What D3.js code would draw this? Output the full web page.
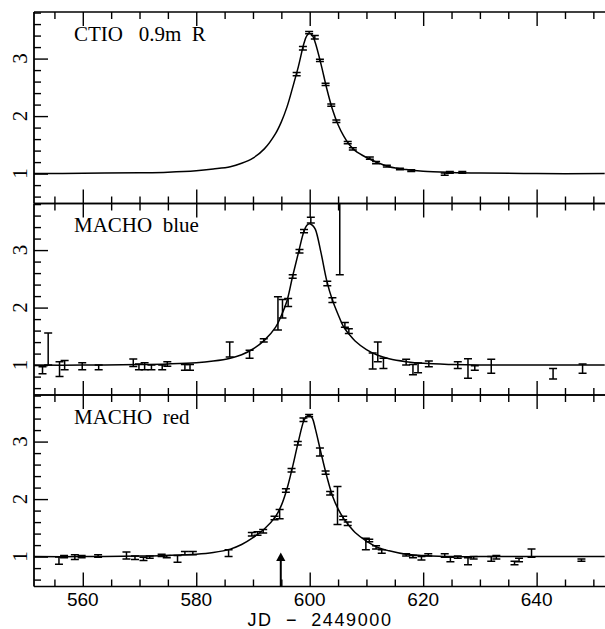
<!DOCTYPE html>
<html>
<head>
<meta charset="utf-8">
<script src="https://cdn.jsdelivr.net/npm/d3@7"></script>
<style>
  body { margin: 0; background: #fff; }
</style>
</head>
<body>
<svg id="chart" width="605" height="629"></svg>
<script>
// days JD - 2449000 where the fitted curves are sampled
const curveT = [551, 560, 570, 575, 580, 583, 586, 588, 590, 592, 594, 595, 596, 597, 598, 599, 599.5, 600,
    600.5, 601, 602, 603, 604, 605, 606, 607, 608, 610, 612, 614, 617, 620, 625, 630, 640, 652];
const ctioCurve = [1.0, 1.005, 1.015, 1.025, 1.05, 1.08, 1.12, 1.18, 1.27, 1.43, 1.70, 1.90, 2.16, 2.50, 2.86, 3.27, 3.40, 3.44,
    3.40, 3.27, 2.90, 2.48, 2.12, 1.85, 1.65, 1.50, 1.40, 1.28, 1.19, 1.12, 1.07, 1.04, 1.02, 1.01, 1.0, 1.0];
const blueCurve = [1.0, 1.0, 1.01, 1.02, 1.04, 1.07, 1.12, 1.18, 1.28, 1.43, 1.66, 1.86, 2.12, 2.55, 2.95, 3.33, 3.43, 3.46,
    3.43, 3.36, 2.95, 2.47, 2.13, 1.88, 1.66, 1.53, 1.42, 1.27, 1.17, 1.11, 1.06, 1.03, 1.01, 1.0, 1.0, 1.0];
const redCurve = [1.0, 1.0, 1.01, 1.02, 1.04, 1.07, 1.13, 1.21, 1.33, 1.48, 1.70, 1.89, 2.18, 2.57, 3.0, 3.37, 3.44, 3.46,
    3.40, 3.22, 2.80, 2.40, 2.06, 1.83, 1.66, 1.53, 1.42, 1.27, 1.16, 1.10, 1.04, 1.02, 1.0, 1.0, 1.0, 1.0];

// CTIO 0.9m R points
const ctioT = [597.7, 598.8, 599.9, 600.9, 601.8, 602.8, 603.8, 604.7, 606.7, 607.6, 610.6, 611.7, 613.6, 615.9, 617.9, 623.8, 624.7, 626.9];
const ctioA = [2.73, 3.18, 3.45, 3.37, 2.97, 2.55, 2.19, 1.91, 1.54, 1.43, 1.27, 1.19, 1.13, 1.08, 1.05, 0.99, 1.02, 1.02];
const ctioErr = [0.03, 0.03, 0.02, 0.03, 0.02, 0.02, 0.02, 0.02, 0.02, 0.02, 0.02, 0.02, 0.015, 0.015, 0.015, 0.02, 0.015, 0.015];

// MACHO blue points
const blueT = [552.9, 553.9, 555.9, 556.8, 559.9, 562.8, 568.9, 569.9, 570.9, 572.1, 574.0, 574.9, 578.0, 578.9, 585.9, 589.4,
    591.9, 594.4, 595.2, 596.2, 597.0, 598.2, 599.0, 600.2, 603.1, 604.0, 605.3, 606.2, 606.9, 611.1, 612.0, 613.0,
    617.0, 618.2, 619.1, 621.0, 626.1, 627.9, 629.1, 632.0, 642.9, 648.1];
const blueA = [0.91, 1.28, 0.93, 1.0, 0.98, 0.96, 1.04, 0.97, 0.98, 0.96, 0.96, 1.02, 0.96, 0.96, 1.27, 1.19,
    1.43, 1.90, 1.98, 2.09, 2.54, 2.98, 3.33, 3.52, 2.42, 2.13, 3.6, 1.70, 1.59, 1.07, 1.23, 1.03,
    1.05, 0.92, 0.95, 1.02, 1.0, 0.94, 0.95, 0.98, 0.85, 0.94];
const blueErr = [0.06, 0.28, 0.13, 0.08, 0.06, 0.04, 0.065, 0.05, 0.06, 0.04, 0.04, 0.04, 0.05, 0.05, 0.13, 0.07,
    0.03, 0.29, 0.16, 0.07, 0.03, 0.03, 0.03, 0.05, 0.04, 0.04, 1.03, 0.04, 0.04, 0.14, 0.17, 0.09,
    0.05, 0.09, 0.085, 0.05, 0.06, 0.17, 0.04, 0.12, 0.09, 0.08];

// MACHO red points
const redT = [555.8, 556.7, 558.6, 559.8, 562.7, 567.7, 569.2, 570.7, 571.8, 573.9, 574.8, 576.7, 578.0, 579.4, 585.7, 589.8,
    590.8, 591.8, 593.8, 594.7, 595.8, 596.8, 597.9, 598.9, 599.9, 601.8, 602.8, 603.6, 604.9, 605.9, 606.7,
    609.9, 610.5, 611.7, 612.7, 617.0, 618.2, 619.7, 620.9, 623.8, 624.8, 626.1, 627.9, 628.9,
    632.0, 632.9, 636.1, 636.9, 639.1, 647.9];
const redA = [0.93, 1.0, 0.99, 1.0, 1.01, 1.02, 0.98, 0.96, 0.99, 1.02, 1.0, 0.96, 1.06, 1.06, 1.06, 1.39,
    1.40, 1.44, 1.67, 1.74, 2.15, 2.50, 2.97, 3.38, 3.45, 2.82, 2.46, 2.10, 1.89, 1.67, 1.57,
    1.22, 1.28, 1.16, 1.09, 1.03, 1.0, 0.97, 1.03, 1.02, 0.95, 0.99, 0.92, 0.98,
    0.96, 0.99, 0.89, 0.94, 1.06, 0.94];
const redErr = [0.065, 0.02, 0.04, 0.02, 0.02, 0.06, 0.03, 0.03, 0.02, 0.02, 0.02, 0.06, 0.03, 0.03, 0.06, 0.03,
    0.03, 0.03, 0.03, 0.08, 0.03, 0.03, 0.03, 0.03, 0.02, 0.07, 0.03, 0.03, 0.33, 0.03, 0.03,
    0.1, 0.02, 0.03, 0.03, 0.02, 0.02, 0.03, 0.02, 0.03, 0.04, 0.02, 0.06, 0.02,
    0.04, 0.03, 0.03, 0.03, 0.07, 0.02];

const panelLabels = ["CTIO   0.9m  R", "MACHO  blue", "MACHO  red"];
const xMajor = [560, 580, 600, 620, 640];
const yMajor = [1, 2, 3];
const xTitle = "JD  \u2212  2449000";
const arrowDay = 594.9;   // marker in the red panel
const arrowTip = 1.07;

const svg = d3.select("#chart");
const width = +svg.attr("width");

const margin = { top: 12, left: 34, right: 2 };
const panelH = 191.5;
const yDomain = [0.48, 3.81];

const x = d3.scaleLinear()
    .domain([551.4, 651.7])
    .range([margin.left, width - margin.right]);

const xMinor = d3.range(555, 652, 5).filter(v => v % 20 !== 0);
const yMinor = d3.range(6, 39, 2).map(v => v / 10).filter(v => v % 1 !== 0);

const panels = [
    { label: panelLabels[0], t: ctioT, a: ctioA, e: ctioErr, curve: ctioCurve },
    { label: panelLabels[1], t: blueT, a: blueA, e: blueErr, curve: blueCurve },
    { label: panelLabels[2], t: redT, a: redA, e: redErr, curve: redCurve }
];

const serif = "'Liberation Serif', 'DejaVu Serif', serif";
const sans = "'Liberation Sans', Arial, sans-serif";

panels.forEach((p, i) => {
    const top = margin.top + i * panelH;
    const bottom = top + panelH;

    const y = d3.scaleLinear().domain(yDomain).range([bottom, top]);

    const g = svg.append("g");

    svg.append("clipPath")
        .attr("id", "clip" + i)
        .append("rect")
        .attr("x", margin.left)
        .attr("y", top)
        .attr("width", width - margin.left + 5)
        .attr("height", panelH);

    // inward ticks on bottom and top edges
    const addAxis = (axis, ty) => {
        const a = g.append("g")
            .attr("transform", `translate(0,${ty})`)
            .call(axis);
        a.select(".domain").remove();
        a.selectAll("line").attr("stroke", "#000").attr("stroke-width", 1.4);
        return a;
    };
    addAxis(d3.axisBottom(x).tickValues(xMajor).tickSize(-14).tickFormat(""), bottom);
    addAxis(d3.axisBottom(x).tickValues(xMinor).tickSize(-7).tickFormat(""), bottom);
    addAxis(d3.axisTop(x).tickValues(xMajor).tickSize(-14).tickFormat(""), top);
    addAxis(d3.axisTop(x).tickValues(xMinor).tickSize(-7).tickFormat(""), top);

    const yl = g.append("g").attr("transform", `translate(${margin.left},0)`);
    yl.append("g").call(d3.axisLeft(y).tickValues(yMajor).tickSize(-14).tickFormat(""));
    yl.append("g").call(d3.axisLeft(y).tickValues(yMinor).tickSize(-7).tickFormat(""));
    yl.selectAll(".domain").remove();
    yl.selectAll("line").attr("stroke", "#000").attr("stroke-width", 1.4);

    // rotated y labels
    g.selectAll(".ylab")
        .data(yMajor)
        .join("text")
        .attr("class", "ylab")
        .attr("transform", d => `translate(20,${y(d)}) rotate(-90)`)
        .attr("text-anchor", "middle")
        .attr("dominant-baseline", "central")
        .attr("font-family", serif)
        .attr("font-size", 21)
        .text(d => d);

    // panel frame lines
    g.append("line")
        .attr("x1", margin.left).attr("x2", width + 2)
        .attr("y1", top).attr("y2", top)
        .attr("stroke", "#000").attr("stroke-width", 1.6);
    g.append("line")
        .attr("x1", margin.left).attr("x2", width + 2)
        .attr("y1", bottom).attr("y2", bottom)
        .attr("stroke", "#000").attr("stroke-width", 1.6);
    g.append("line")
        .attr("x1", margin.left).attr("x2", margin.left)
        .attr("y1", top).attr("y2", bottom)
        .attr("stroke", "#000").attr("stroke-width", 1.8);

    const plot = g.append("g").attr("clip-path", `url(#clip${i})`);

    // fitted light curve
    const line = d3.line()
        .x(d => x(d[0]))
        .y(d => y(d[1]))
        .curve(d3.curveCatmullRom.alpha(0.5));

    plot.append("path")
        .datum(curveT.map((t, k) => [t, p.curve[k]]))
        .attr("d", line)
        .attr("fill", "none")
        .attr("stroke", "#000")
        .attr("stroke-width", 1.5);

    // error bars
    const pts = p.t.map((t, k) => ({ t, a: p.a[k], e: p.e[k] }));
    const cap = 4;
    plot.selectAll(".err")
        .data(pts)
        .join("path")
        .attr("class", "err")
        .attr("d", d => {
            const px = x(d.t);
            const y0 = y(d.a - d.e);
            const y1 = y(d.a + d.e);
            return `M${px},${y0}V${y1}M${px - cap},${y0}H${px + cap}M${px - cap},${y1}H${px + cap}`;
        })
        .attr("fill", "none")
        .attr("stroke", "#000")
        .attr("stroke-width", 1.5);

    // panel label
    g.append("text")
        .attr("x", 74)
        .attr("y", top + 28.5)
        .attr("font-family", serif)
        .attr("font-size", 21)
        .style("white-space", "pre")
        .attr("xml:space", "preserve")
        .text(p.label);

    if (i === panels.length - 1) {
        // x tick labels
        g.selectAll(".xlab")
            .data(xMajor)
            .join("text")
            .attr("class", "xlab")
            .attr("x", d => x(d))
            .attr("y", bottom + 19)
            .attr("text-anchor", "middle")
            .attr("font-family", sans)
            .attr("font-size", 19)
            .text(d => d);

        g.append("text")
            .attr("x", 320)
            .attr("y", bottom + 39.5)
            .attr("text-anchor", "middle")
            .attr("font-family", sans)
            .attr("font-size", 18)
            .attr("letter-spacing", 1.6)
            .style("white-space", "pre")
            .attr("xml:space", "preserve")
            .text(xTitle);

        // arrow marking a day
        const ax = x(arrowDay);
        const tipY = y(arrowTip);
        g.append("line")
            .attr("x1", ax).attr("x2", ax)
            .attr("y1", bottom).attr("y2", tipY + 6)
            .attr("stroke", "#000").attr("stroke-width", 2);
        g.append("path")
            .attr("d", `M${ax},${tipY}L${ax - 4.6},${tipY + 8.5}L${ax + 4.6},${tipY + 8.5}Z`)
            .attr("fill", "#000");
    }
});
</script>
</body>
</html>
